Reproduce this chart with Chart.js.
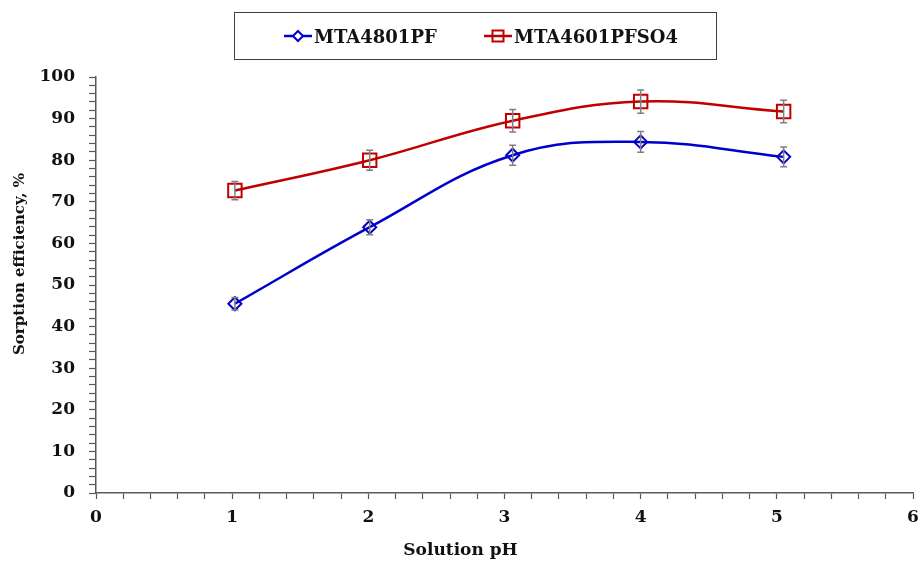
<!DOCTYPE html>
<html>
<head>
<meta charset="utf-8">
<script src="https://cdn.jsdelivr.net/npm/chart.js@4.4.1/dist/chart.umd.min.js"></script>
<style>
  body { margin: 0; background: #fff; }
  #wrap { position: relative; width: 921px; height: 561px; }
  #legend {
    position: absolute; left: 234px; top: 12px; width: 481px; height: 46px;
    border: 1.5px solid #404040; box-sizing: content-box;
    font: bold 18px "DejaVu Serif"; color: #111;
  }
  .item { position: absolute; top: 0; height: 46px; display: flex; align-items: center; }
  .item svg { margin-right: 1px; }
</style>
</head>
<body>
<div id="wrap">
  <canvas id="graph" width="921" height="561"></canvas>
  <div id="legend"></div>
</div>
<script>
var g_phValues = [1.02, 2.01, 3.06, 4.0, 5.05];
var g_seriesNames = ["MTA4801PF", "MTA4601PFSO4"];
var g_pfValues = [45.5, 63.9, 81.2, 84.4, 80.8];
var g_pfErrors = [1.5, 1.8, 2.4, 2.5, 2.4];
var g_pfso4Values = [72.7, 80.0, 89.5, 94.1, 91.7];
var g_pfso4Errors = [2.2, 2.4, 2.7, 2.8, 2.7];

var g_blue = "#0000cc";
var g_red = "#c00000";
var g_font = "DejaVu Serif";

function toPoints(xs, ys) {
    return xs.map(function (x, i) { return { x: x, y: ys[i] }; });
}

function isWhole(v) {
    return Math.abs(v - Math.round(v)) < 1e-6;
}

var errorBars = {
    id: "errorBars",
    afterDatasetsDraw: function (chart) {
        var ctx = chart.ctx;
        var xs = chart.scales.x, ys = chart.scales.y;
        var errs = [g_pfErrors, g_pfso4Errors];
        ctx.save();
        ctx.strokeStyle = "#7f7f7f";
        ctx.lineWidth = 1.5;
        chart.data.datasets.forEach(function (ds, i) {
            ds.data.forEach(function (p, j) {
                var x = xs.getPixelForValue(p.x);
                var top = ys.getPixelForValue(p.y + errs[i][j]);
                var bot = ys.getPixelForValue(p.y - errs[i][j]);
                ctx.beginPath();
                ctx.moveTo(x, top); ctx.lineTo(x, bot);
                ctx.moveTo(x - 3.5, top); ctx.lineTo(x + 3.5, top);
                ctx.moveTo(x - 3.5, bot); ctx.lineTo(x + 3.5, bot);
                ctx.stroke();
            });
        });
        ctx.restore();
    }
};

// axis titles are placed by hand, the x one sits on the page centre
var axisTitles = {
    id: "axisTitles",
    afterDraw: function (chart) {
        var ctx = chart.ctx;
        ctx.save();
        ctx.fillStyle = "#111";
        ctx.textAlign = "center";
        ctx.textBaseline = "middle";
        ctx.font = "bold 17px '" + g_font + "'";
        ctx.fillText("Solution pH", chart.width / 2, 551);
        ctx.translate(20, 264);
        ctx.rotate(-Math.PI / 2);
        ctx.font = "bold 15px '" + g_font + "'";
        ctx.fillText("Sorption efficiency, %", 0, 0);
        ctx.restore();
    }
};

var ctx = document.getElementById("graph").getContext("2d");
var g_chart = new Chart(ctx, {
    type: "scatter",
    data: {
        datasets: [{
            label: g_seriesNames[0],
            data: toPoints(g_phValues, g_pfValues),
            showLine: true,
            borderColor: g_blue,
            borderWidth: 2.5,
            tension: 0.4,
            pointStyle: "rectRot",
            pointRadius: 6.5,
            pointBorderWidth: 2,
            pointBorderColor: g_blue,
            pointBackgroundColor: "rgba(0,0,0,0)"
        }, {
            label: g_seriesNames[1],
            data: toPoints(g_phValues, g_pfso4Values),
            showLine: true,
            borderColor: g_red,
            borderWidth: 2.5,
            tension: 0.4,
            pointStyle: "rect",
            pointRadius: 9.5,
            pointBorderWidth: 2,
            pointBorderColor: g_red,
            pointBackgroundColor: "rgba(0,0,0,0)"
        }]
    },
    options: {
        responsive: false,
        animation: false,
        layout: { autoPadding: false, padding: { left: 8, right: 8, top: 77, bottom: 34 } },
        plugins: { legend: { display: false }, tooltip: { enabled: false } },
        scales: {
            x: {
                type: "linear", min: 0, max: 6,
                afterFit: function (s) { s.height = 34; s.paddingLeft = 0; s.paddingRight = 0; },
                border: { color: "#595959", width: 1.5 },
                grid: { drawOnChartArea: false, tickLength: 6, color: "#595959", tickWidth: 1.2 },
                ticks: {
                    stepSize: 0.2, autoSkip: false, maxRotation: 0, padding: 8,
                    color: "#111", font: { family: g_font, size: 17, weight: "bold" },
                    callback: function (v) { return isWhole(v) ? Math.round(v) : ""; }
                }
            },
            y: {
                min: 0, max: 100,
                afterFit: function (s) { s.width = 88; },
                border: { color: "#595959", width: 1.5 },
                grid: { drawOnChartArea: false, tickLength: 7, color: "#595959", tickWidth: 1.2 },
                ticks: {
                    stepSize: 2, autoSkip: false, padding: 14,
                    color: "#111", font: { family: g_font, size: 17, weight: "bold" },
                    callback: function (v) { return v % 10 === 0 ? v : ""; }
                }
            }
        }
    },
    plugins: [errorBars, axisTitles]
});

function buildLegend() {
    var legend = document.getElementById("legend");
    var icons = [
        '<svg width="30" height="16"><line x1="1" y1="8" x2="29" y2="8" stroke="' + g_blue + '" stroke-width="2.5"/>' +
        '<path d="M15 3 L20 8 L15 13 L10 8 Z" fill="#fff" stroke="' + g_blue + '" stroke-width="2"/></svg>',
        '<svg width="30" height="16"><line x1="1" y1="8" x2="29" y2="8" stroke="' + g_red + '" stroke-width="2.5"/>' +
        '<rect x="9.5" y="2.5" width="11" height="11" fill="none" stroke="' + g_red + '" stroke-width="2"/></svg>'
    ];
    var lefts = [48, 248];
    for (var i = 0; i < g_seriesNames.length; i++) {
        var div = document.createElement("div");
        div.className = "item";
        div.style.left = lefts[i] + "px";
        div.innerHTML = icons[i] + "<span>" + g_seriesNames[i] + "</span>";
        legend.appendChild(div);
    }
}
buildLegend();
</script>
</body>
</html>
